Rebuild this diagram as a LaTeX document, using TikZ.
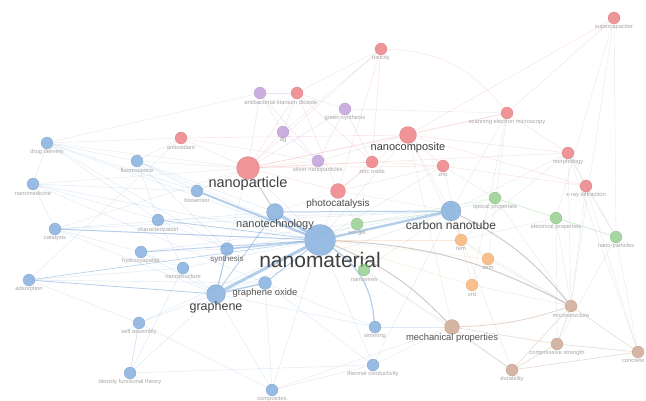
\documentclass[tikz,border=0pt]{standalone}
\usepackage{fontspec}
\setmainfont{Liberation Sans}
\pgfdeclarelayer{bottom}
\pgfdeclarelayer{background}
\pgfsetlayers{bottom,background,main}
\definecolor{cb}{HTML}{6C9FD6}
\definecolor{cr}{HTML}{E9686C}
\definecolor{cp}{HTML}{B58ED4}
\definecolor{cg}{HTML}{82C77A}
\definecolor{co}{HTML}{F6A85C}
\definecolor{cn}{HTML}{C4977D}
\tikzset{
  kwnode/.style={circle, inner sep=0pt, fill=#1, fill opacity=.7, draw=#1!75!black, draw opacity=.35, line width=.4pt},
  smalllab/.style={text=black!35, font=\fontsize{5.8}{6}\selectfont, inner sep=.5pt},
  midlab/.style={text=black!68, font=\fontsize{9.4}{10}\selectfont, inner sep=.5pt},
  biglab/.style={text=black!75, font=\fontsize{12}{13}\selectfont, inner sep=.5pt},
  eb/.style={draw=cb, draw opacity=.22, line width=.45pt},
  ebs/.style={draw=cb, draw opacity=.5},
  er/.style={draw=cr, draw opacity=.2, line width=.45pt},
  ep/.style={draw=cp, draw opacity=.25, line width=.45pt},
  eg/.style={draw=cg, draw opacity=.25, line width=.45pt},
  eo/.style={draw=co, draw opacity=.25, line width=.45pt},
  en/.style={draw=cn, draw opacity=.4, line width=.5pt},
  ex/.style={draw=gray, draw opacity=.16, line width=.45pt},
  exs/.style={draw=gray, draw opacity=.4},
}
% [label style]{name}{x}{y}{diameter}{colour}{text}{label offset}
\newcommand\kw[8][smalllab]{%
  \node[kwnode=#6, minimum size=#5pt] (#2) at (#3,#4) {};
  \node[#1] (#2-l) at (#3,#4+#8) {#7};}
\begin{document}
\begin{tikzpicture}[x=1pt,y=-1pt]
\begin{pgfonlayer}{bottom}
\fill[white] (0,0) rectangle (646,401);
\end{pgfonlayer}
\useasboundingbox (0,0) rectangle (646,401);
% ---- blue cluster
\kw[text=black!75, font=\fontsize{21}{22}\selectfont, inner sep=.5pt]{nanomaterial}{320}{240}{31}{cb}{nanomaterial}{20}
\kw[biglab]{cnt}{451}{211}{20}{cb}{carbon nanotube}{14}
\kw[text=black!70, font=\fontsize{11}{12}\selectfont, inner sep=.5pt]{nanotech}{275}{212}{17}{cb}{nanotechnology}{13}
\kw[text=black!75, font=\fontsize{12.5}{13}\selectfont, inner sep=.5pt]{graphene}{216}{294}{19}{cb}{graphene}{13}
\kw[midlab]{goxide}{265}{283}{13}{cb}{graphene oxide}{10}
\kw[text=black!60, font=\fontsize{8}{9}\selectfont, inner sep=.5pt]{synthesis}{227}{249}{13}{cb}{synthesis}{10}
\kw{biosensor}{197}{191}{12}{cb}{biosensor}{9}
\kw{drug}{47}{143}{12}{cb}{drug delivery}{9}
\kw{fluor}{137}{161}{12}{cb}{fluorescence}{9}
\kw{nanomed}{33}{184}{12}{cb}{nanomedicine}{9}
\kw{charact}{158}{220}{12}{cb}{characterization}{9}
\kw{catalysis}{55}{229}{12}{cb}{catalysis}{9}
\kw{hydroxy}{141}{252}{12}{cb}{hydroxyapatite}{9}
\kw{nanostruct}{183}{268}{12}{cb}{nanostructure}{9}
\kw{adsorption}{29}{280}{12}{cb}{adsorption}{9}
\kw{selfassembly}{139}{323}{12}{cb}{self assembly}{9}
\kw{dft}{130}{373}{12}{cb}{density functional theory}{9}
\kw{composites}{272}{390}{12}{cb}{composites}{9}
\kw{sintering}{375}{327}{12}{cb}{sintering}{9}
\kw{thermal}{373}{365}{12}{cb}{thermal conductivity}{9}
% ---- red cluster
\kw[text=black!75, font=\fontsize{14.5}{15}\selectfont, inner sep=.5pt]{nanoparticle}{248}{168}{23}{cr}{nanoparticle}{16}
\kw[text=black!75, font=\fontsize{11}{12}\selectfont, inner sep=.5pt]{nanocomposite}{408}{135}{17}{cr}{nanocomposite}{13}
\kw[text=black!70, font=\fontsize{10}{11}\selectfont, inner sep=.5pt]{photocat}{338}{191}{15}{cr}{photocatalysis}{13}
\kw{antioxidant}{181}{138}{12}{cr}{antioxidant}{9}
\kw{tio}{297}{93}{12}{cr}{titanium dioxide}{9}
\kw{toxicity}{381}{49}{12}{cr}{toxicity}{9}
\kw{semmicro}{507}{113}{12}{cr}{scanning electron microscopy}{9}
\kw{supercap}{614}{18}{12}{cr}{supercapacitor}{9}
\kw{zincoxide}{372}{162}{12}{cr}{zinc oxide}{9}
\kw{zno}{443}{166}{12}{cr}{zno}{9}
\kw{morphology}{568}{153}{12}{cr}{morphology}{9}
\kw{xrdiff}{586}{186}{12}{cr}{x-ray diffraction}{9}
% ---- purple cluster
\kw{antibacterial}{260}{93}{12}{cp}{antibacterial}{9}
\kw{ag}{283}{132}{12}{cp}{ag}{9}
\kw{green}{345}{109}{12}{cp}{green synthesis}{9}
\kw{silver}{318}{161}{12}{cp}{silver nanoparticles}{9}
% ---- green cluster
\kw{solgel}{357}{224}{12}{cg}{sol-gel}{9}
\kw{nanowires}{364}{270}{12}{cg}{nanowires}{9}
\kw{optical}{495}{198}{12}{cg}{optical properties}{9}
\kw{electrical}{556}{218}{12}{cg}{electrical properties}{9}
\kw{nanoptwo}{616}{237}{12}{cg}{nano-particles}{9}
% ---- orange cluster
\kw{tem}{461}{240}{12}{co}{tem}{9}
\kw{sem}{488}{259}{12}{co}{sem}{9}
\kw{xrd}{472}{285}{12}{co}{xrd}{9}
% ---- brown cluster
\kw[midlab]{mech}{452}{327}{15}{cn}{mechanical properties}{11}
\kw{micro}{571}{306}{12}{cn}{microstructure}{9}
\kw{compressive}{557}{344}{12}{cn}{compressive strength}{9}
\kw{durability}{512}{370}{12}{cn}{durability}{9}
\node[kwnode=cn, minimum size=12pt] (concrete) at (638,352) {};
\node[smalllab, anchor=east] (concrete-l) at (645,361) {concrete};
% ---- connectors
\begin{pgfonlayer}{background}
\foreach \a/\b in {nanomaterial/micro, nanomaterial/mech, cnt/micro}
  \draw[exs, line width=1pt, bend left=12] (\a) to (\b);
\draw[exs, line width=1pt] (nanoparticle) -- (nanotech);
\foreach \a/\b/\w in {nanomaterial/nanotech/3, nanomaterial/graphene/3, nanomaterial/cnt/2.4,
  nanomaterial/biosensor/2, nanomaterial/synthesis/1.5, nanomaterial/catalysis/1,
  nanomaterial/goxide/1, graphene/goxide/1.5, graphene/synthesis/1, cnt/nanotech/1,
  nanomaterial/hydroxy/.8, nanomaterial/charact/.8, graphene/adsorption/.8,
  nanomaterial/adsorption/.6, graphene/nanotech/.8}
  \draw[ebs, line width=\w pt] (\a) -- (\b);
\draw[ebs, line width=1.2pt, bend left=25] (nanomaterial) to (sintering);
\foreach \a/\b in {drug/nanomaterial, drug/fluor, drug/nanomed, drug/biosensor, fluor/nanomaterial,
  fluor/biosensor, fluor/charact, nanomed/nanomaterial, nanomed/catalysis, nanomed/charact,
  catalysis/hydroxy, catalysis/graphene, charact/synthesis, charact/nanostruct, hydroxy/graphene,
  hydroxy/nanostruct, nanostruct/nanomaterial, nanostruct/graphene, adsorption/selfassembly,
  adsorption/goxide, selfassembly/nanomaterial, selfassembly/graphene, selfassembly/dft,
  dft/graphene, dft/nanostruct, dft/thermal, composites/graphene, composites/nanomaterial,
  composites/thermal, composites/goxide, sintering/graphene, thermal/nanomaterial, thermal/cnt,
  sintering/mech, thermal/goxide, cnt/graphene, cnt/synthesis, goxide/sintering, nanomed/biosensor,
  drug/charact, catalysis/nanotech, fluor/synthesis, adsorption/nanostruct, dft/selfassembly,
  composites/selfassembly, hydroxy/synthesis, catalysis/cnt, fluor/nanotech, drug/synthesis,
  nanomed/goxide, charact/cnt, hydroxy/cnt}
  \draw[eb] (\a) -- (\b);
\foreach \a/\b in {nanoparticle/nanocomposite, nanoparticle/antioxidant, nanoparticle/photocat,
  nanoparticle/zincoxide, nanoparticle/zno, nanoparticle/tio, nanoparticle/silver,
  nanocomposite/semmicro, nanocomposite/zno, nanocomposite/morphology, nanocomposite/xrdiff,
  nanocomposite/photocat, nanocomposite/supercap, semmicro/supercap, toxicity/nanoparticle,
  photocat/zincoxide, photocat/zno, zincoxide/zno, morphology/xrdiff, antioxidant/nanocomposite,
  semmicro/morphology, xrdiff/zno, tio/photocat, tio/zincoxide, toxicity/zincoxide, toxicity/photocat,
  nanoparticle/morphology, nanoparticle/semmicro}
  \draw[er] (\a) -- (\b);
\draw[er, bend left=25] (toxicity) to (semmicro);
\foreach \a/\b in {antibacterial/ag, antibacterial/silver, ag/silver, green/silver, green/nanoparticle,
  antibacterial/nanoparticle, ag/nanoparticle, green/zincoxide, tio/antibacterial, ag/tio, green/tio}
  \draw[ep] (\a) -- (\b);
\foreach \a/\b in {solgel/nanomaterial, solgel/optical, optical/electrical, electrical/nanoptwo,
  optical/cnt, nanowires/nanomaterial, nanowires/cnt, solgel/cnt, optical/nanoptwo}
  \draw[eg] (\a) -- (\b);
\foreach \a/\b in {tem/sem, sem/xrd, tem/cnt, tem/nanomaterial, sem/nanomaterial, xrd/nanomaterial, tem/xrd}
  \draw[eo] (\a) -- (\b);
\draw[en, line width=.8pt, bend right=8] (mech) to (micro);
\foreach \a/\b in {mech/compressive, micro/compressive, compressive/concrete, durability/concrete,
  durability/compressive, micro/concrete, mech/durability, micro/durability}
  \draw[en] (\a) -- (\b);
\foreach \a/\b in {nanomaterial/photocat, nanomaterial/nanocomposite, nanomaterial/zno, cnt/nanocomposite,
  cnt/morphology, nanocomposite/mech, semmicro/xrd, supercap/micro, supercap/electrical,
  morphology/nanoptwo, xrdiff/nanoptwo, xrdiff/concrete, nanoptwo/concrete, mech/thermal,
  durability/nanowires, micro/tem, antioxidant/drug, antioxidant/fluor, nanoparticle/drug,
  nanoparticle/nanomed, nanoparticle/catalysis, nanoparticle/fluor, nanoparticle/biosensor,
  toxicity/ag, graphene/nanoparticle, nanoparticle/nanomaterial, semmicro/sem, morphology/tem,
  xrdiff/micro, electrical/micro, cnt/durability, mech/composites, optical/zno, antioxidant/silver,
  nanoptwo/compressive, drug/antibacterial, green/semmicro, tio/toxicity, nanocomposite/silver,
  sem/micro, xrd/micro, nanowires/mech, electrical/compressive, adsorption/antioxidant,
  photocat/solgel, nanotech/photocat, cnt/semmicro, concrete/morphology, supercap/nanoptwo,
  morphology/micro, optical/micro, zno/tem, photocat/cnt, nanocomposite/tem, electrical/tem}
  \draw[ex] (\a) -- (\b);
\end{pgfonlayer}
\end{tikzpicture}
\end{document}
